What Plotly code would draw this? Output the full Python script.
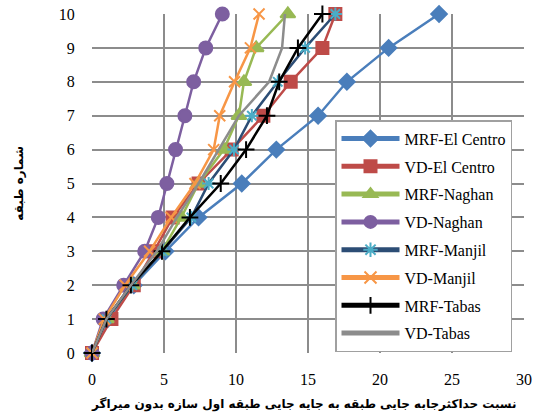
import plotly.graph_objects as go

floors = [0, 1, 2, 3, 4, 5, 6, 7, 8, 9, 10]

mrf_el_centro = [0, 1.1, 2.9, 5.1, 7.4, 10.4, 12.8, 15.7, 17.7, 20.6, 24.1]
vd_el_centro = [0, 1.35, 2.9, 4.3, 5.6, 7.4, 9.7, 11.9, 13.8, 16.0, 16.9]
mrf_naghan = [0, 1.0, 2.8, 4.85, 6.2, 7.4, 9.15, 10.2, 10.55, 11.4, 13.6]
vd_naghan = [0, 0.77, 2.2, 3.66, 4.6, 5.2, 5.8, 6.45, 7.06, 7.9, 9.05]
mrf_manjil = [0, 1.0, 2.8, 4.9, 6.9, 8.1, 9.86, 11.1, 12.9, 14.8, 16.9]
vd_manjil = [0, 0.85, 2.3, 4.0, 5.5, 7.15, 8.45, 8.87, 9.9, 11.0, 11.6]
mrf_tabas = [0, 1.0, 2.7, 4.86, 6.8, 8.94, 10.7, 12.15, 13.0, 14.3, 16.0]
vd_tabas = [0, 1.0, 2.7, 4.5, 5.9, 7.4, 8.8, 10.2, 12.3, 13.2, 13.4]

x_ticks = [0, 5, 10, 15, 20, 25, 30]
x_title = "نسبت حداکثرجابه جایی طبقه به جایه جایی طبقه اول سازه بدون میراگر"
y_title = "شماره طبقه"

series = [
    ("MRF-El Centro", mrf_el_centro, "#4A7EBB", "diamond", 12, "#4A7EBB"),
    ("VD-El Centro", vd_el_centro, "#BE4B48", "square", 12, "#BE4B48"),
    ("MRF-Naghan", mrf_naghan, "#98B954", "triangle-up", 13, "#98B954"),
    ("VD-Naghan", vd_naghan, "#7D5FA0", "circle", 13, "#7D5FA0"),
    ("MRF-Manjil", mrf_manjil, "#2C4D75", "asterisk-open", 11, "#4BACC6"),
    ("VD-Manjil", vd_manjil, "#F79646", "x-thin-open", 11, "#F79646"),
    ("MRF-Tabas", mrf_tabas, "#000000", "cross-thin-open", 12, "#000000"),
    ("VD-Tabas", vd_tabas, "#8C8C8C", None, 0, "#8C8C8C"),
]

SERIF = "Liberation Serif, Times New Roman, serif"

fig = go.Figure()
for i, (name, xs, lc, sym, sz, mc) in enumerate(series):
    if sym is None:
        fig.add_trace(go.Scatter(x=xs, y=floors, name=name, mode="lines",
                                 line=dict(color=lc, width=2.5),
                                 legendgroup=str(i), cliponaxis=False))
    else:
        fig.add_trace(go.Scatter(
            x=xs, y=floors, name=name, mode="lines+markers",
            line=dict(color=lc, width=2.5),
            marker=dict(symbol=sym, size=sz, color=mc,
                        line=dict(color=mc, width=2)),
            legendgroup=str(i), cliponaxis=False))

fig.update_layout(
    width=547, height=419,
    margin=dict(l=92, r=23, t=14, b=66, autoexpand=False),
    paper_bgcolor="white", plot_bgcolor="white",
    font=dict(family=SERIF, size=16, color="black"),
    showlegend=True,
    legend=dict(x=0.5625, y=0.687, xanchor="left", yanchor="top",
                bgcolor="white", bordercolor="#A0A0A0", borderwidth=1.5,
                font=dict(family=SERIF, size=16, color="black"),
                tracegroupgap=4, itemsizing="constant", itemwidth=58),
    xaxis=dict(range=[0, 30], tickvals=x_ticks,
               showgrid=True, gridcolor="#8C8C8C", gridwidth=2,
               zeroline=False, showline=False,
               ticks="outside", ticklen=12, tickcolor="rgba(0,0,0,0)",
               tickfont=dict(family=SERIF, size=16), automargin=False),
    yaxis=dict(range=[0, 10], tickvals=floors,
               showgrid=True, gridcolor="#8C8C8C", gridwidth=2,
               zeroline=False, showline=False,
               ticks="outside", ticklen=13, tickcolor="rgba(0,0,0,0)",
               tickfont=dict(family=SERIF, size=16), automargin=False),
    annotations=[
        dict(text=x_title, xref="paper", yref="paper", x=0.49, y=-0.153,
             xanchor="center", yanchor="middle", showarrow=False,
             font=dict(family="DejaVu Sans", size=12, weight="bold", color="black")),
        dict(text=y_title, xref="paper", yref="paper", x=-0.171, y=0.5,
             xanchor="center", yanchor="middle", showarrow=False, textangle=-90,
             font=dict(family="DejaVu Sans", size=12, weight="bold", color="black")),
    ],
)

fig.write_html("out.html", config={"displayModeBar": False},
               post_script="document.body.style.margin='0';")
